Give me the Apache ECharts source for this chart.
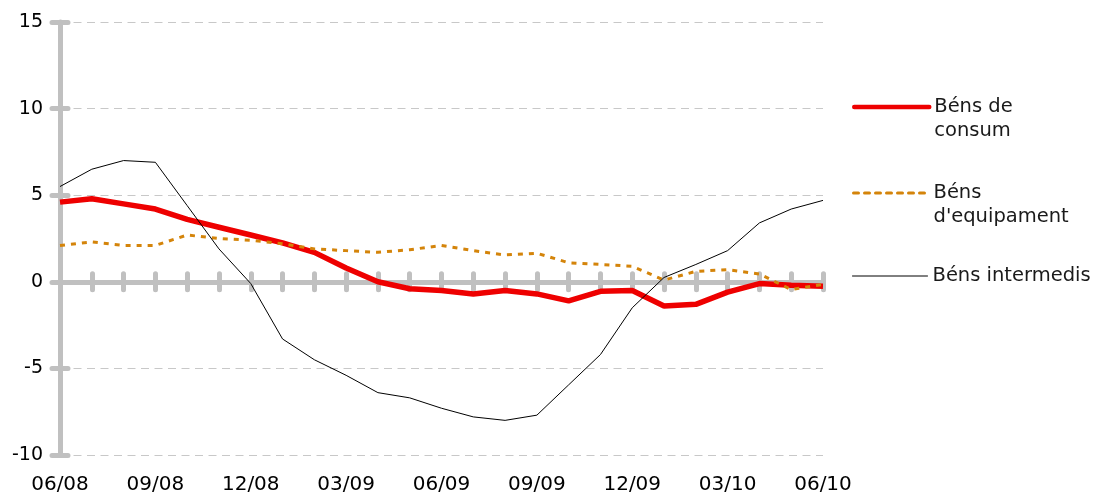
<!DOCTYPE html>
<html>
<head>
<meta charset="utf-8">
<script src="https://cdn.jsdelivr.net/npm/echarts@6/dist/echarts.min.js"></script>
<style>
html,body{margin:0;padding:0;background:#fff;}
#chart{width:1095px;height:496px;}
</style>
</head>
<body>
<div id="chart"></div>
<script>
const months = ['06/08','07/08','08/08','09/08','10/08','11/08','12/08','01/09','02/09','03/09','04/09','05/09','06/09','07/09','08/09','09/09','10/09','11/09','12/09','01/10','02/10','03/10','04/10','05/10','06/10'];
const consum = [4.6, 4.8, 4.5, 4.2, 3.6, 3.15, 2.7, 2.25, 1.7, 0.8, 0.0, -0.4, -0.5, -0.7, -0.5, -0.7, -1.1, -0.55, -0.5, -1.4, -1.3, -0.6, -0.1, -0.2, -0.25];
const equipament = [2.1, 2.3, 2.1, 2.1, 2.7, 2.5, 2.4, 2.2, 1.9, 1.8, 1.7, 1.85, 2.1, 1.8, 1.55, 1.65, 1.1, 1.0, 0.9, 0.1, 0.6, 0.7, 0.45, -0.45, -0.15];
const intermedis = [5.5, 6.5, 7.0, 6.9, 4.4, 1.9, -0.1, -3.3, -4.5, -5.4, -6.4, -6.7, -7.3, -7.8, -8.0, -7.7, -5.95, -4.2, -1.5, 0.25, 1.0, 1.8, 3.4, 4.2, 4.7];
const seriesNames = ['Béns de consum', "Béns d'equipament", 'Béns intermedis'];
const legendLabels = [' \nBéns de\nconsum', " \nBéns\nd'equipament", 'Béns intermedis'];

const FONT = 'DejaVu Sans';
const AXIS_GRAY = '#C0C0C0';

const chart = echarts.init(document.getElementById('chart'), null, {renderer: 'canvas'});

function legendFor(i, top, lw) {
  return {
    data: [seriesNames[i]],
    left: 852,
    top: top,
    padding: 0,
    orient: 'vertical',
    itemWidth: 75,
    itemHeight: 14,
    selectedMode: false,
    itemStyle: {opacity: 0},
    lineStyle: {width: lw, type: 'inherit', cap: 'round'},
    formatter: () => legendLabels[i],
    textStyle: {fontFamily: FONT, fontSize: 19.5, lineHeight: 24, color: '#1a1a1a'}
  };
}

chart.setOption({
  animation: false,
  grid: {left: 60, right: 272, top: 22, bottom: 41, containLabel: false},
  legend: [legendFor(0, 71, 4.5), legendFor(1, 157, 3), legendFor(2, 264, 1)],
  xAxis: [
    {
      type: 'category', data: months, boundaryGap: false, position: 'bottom',
      axisLine: {show: false, onZero: false},
      axisTick: {show: false},
      axisLabel: {interval: 2, margin: 20, fontFamily: FONT, fontSize: 20, color: '#000'},
      splitLine: {show: false}
    },
    {
      type: 'category', data: months, boundaryGap: false, position: 'top',
      axisLine: {show: true, onZero: true, lineStyle: {color: AXIS_GRAY, width: 5, cap: 'round'}},
      axisTick: {show: true, interval: 0, length: 8, lineStyle: {color: AXIS_GRAY, width: 5, cap: 'round'}},
      axisLabel: {show: false},
      splitLine: {show: false}
    },
    {
      type: 'category', data: months, boundaryGap: false, position: 'bottom',
      axisLine: {show: false, onZero: true},
      axisTick: {show: true, interval: 0, length: 8, lineStyle: {color: AXIS_GRAY, width: 5, cap: 'round'}},
      axisLabel: {show: false},
      splitLine: {show: false}
    }
  ],
  yAxis: [
    {
      type: 'value', min: -10, max: 15, interval: 5, position: 'left',
      axisLine: {show: true, onZero: false, lineStyle: {color: AXIS_GRAY, width: 5, cap: 'round'}},
      axisTick: {show: true, length: 8, lineStyle: {color: AXIS_GRAY, width: 5, cap: 'round'}},
      axisLabel: {margin: 17, fontFamily: FONT, fontSize: 19, color: '#000'},
      splitLine: {show: true, lineStyle: {color: '#C8C8C8', width: 1, type: [8, 5.5]}}
    },
    {
      type: 'value', min: -10, max: 15, interval: 5, position: 'left',
      axisLine: {show: false, onZero: false},
      axisTick: {show: true, inside: true, length: 8, lineStyle: {color: AXIS_GRAY, width: 5, cap: 'round'}},
      axisLabel: {show: false},
      splitLine: {show: false}
    }
  ],
  series: [
    {
      name: seriesNames[0], type: 'line', data: consum, xAxisIndex: 0, yAxisIndex: 0,
      symbol: 'none', lineStyle: {color: '#EE0000', width: 5.5}, itemStyle: {color: '#EE0000'}, z: 3
    },
    {
      name: seriesNames[1], type: 'line', data: equipament, xAxisIndex: 0, yAxisIndex: 0,
      symbol: 'none', lineStyle: {color: '#D4840A', width: 3, type: [5, 6]}, itemStyle: {color: '#D4840A'}, z: 4
    },
    {
      name: seriesNames[2], type: 'line', data: intermedis, xAxisIndex: 0, yAxisIndex: 0,
      symbol: 'none', lineStyle: {color: '#000', width: 1}, itemStyle: {color: '#000'}, z: 5
    }
  ]
});
</script>
</body>
</html>
